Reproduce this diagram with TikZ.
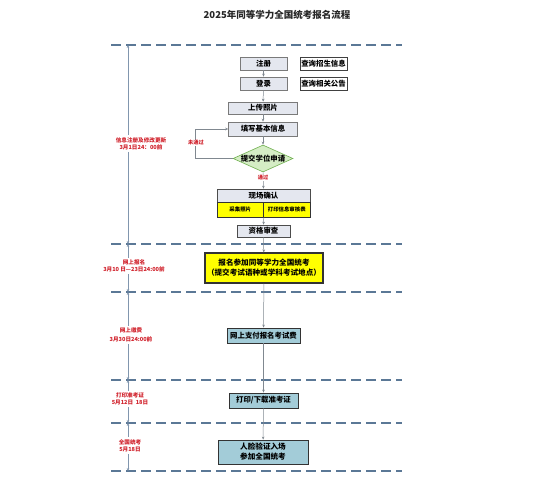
\documentclass[tikz,border=0pt]{standalone}
\usepackage{fontspec}
\setmainfont{Noto Sans CJK SC}
\usetikzlibrary{shapes.geometric,arrows.meta}
\definecolor{boxfill}{HTML}{E4E7EF}
\definecolor{boxline}{HTML}{7A7A7A}
\definecolor{dfill}{HTML}{D5EDC5}
\definecolor{dline}{HTML}{6FAF4F}
\definecolor{ylw}{HTML}{FFFF00}
\definecolor{lblue}{HTML}{A3CCD8}
\definecolor{dash}{HTML}{5B7896}
\definecolor{tline}{HTML}{8196AE}
\definecolor{conn}{HTML}{808890}
\definecolor{redlab}{HTML}{D0202A}
\begin{document}
\begin{tikzpicture}[x=1pt,y=-1pt,
  box/.style={draw=boxline, fill=boxfill, line width=0.6pt, inner sep=0pt,
    font=\fontsize{7.4}{8}\selectfont\bfseries, align=center},
  wbox/.style={box, fill=white, draw=black!75},
  ybox/.style={box, fill=ylw, draw=black!80},
  bbox/.style={box, fill=lblue, draw=black!80, line width=0.8pt},
  dec/.style={shape=diamond, draw=dline, fill=dfill, line width=0.6pt, inner sep=0pt},
  conline/.style={draw=conn, line width=0.5pt},
  con/.style={conline, -{Stealth[length=3pt,width=2.6pt]}},
  dashln/.style={draw=dash, line width=1.5pt, dash pattern=on 10pt off 5pt},
  tl/.style={draw=tline, line width=0.6pt, -{Stealth[length=3pt,width=2.6pt]}},
  redl/.style={text=redlab, font=\fontsize{5.6}{7}\selectfont\bfseries, align=center, inner sep=2pt},
  smallred/.style={text=redlab, font=\fontsize{5.2}{6}\selectfont\bfseries, fill=white, inner sep=0.5pt}
]
\useasboundingbox (0,0) rectangle (536,500);

% title
\node[font=\fontsize{9.5}{11}\selectfont\bfseries, text=black!85] (title) at (277,15) {2025年同等学力全国统考报名流程};

% dashed separators
\foreach \y in {45,244,292,380,423,471}
  \draw[dashln] (111,\y) -- (402,\y);

% timeline coordinates
\coordinate (t0) at (128,45);
\coordinate (t1) at (128,244);
\coordinate (t2) at (128,292);
\coordinate (t3) at (128,380);
\coordinate (t4) at (128,423);
\coordinate (t5) at (128,471);

% timeline labels
\node[redl] (lab1) at (141,143.5) {信息注册及修改更新\\3月1日24：00前};
\node[redl] (lab2) at (134,266) {网上报名\\3月10 日—23日24:00前};
\node[redl, font=\fontsize{5.6}{9}\selectfont\bfseries] (lab3) at (131,335) {网上缴费\\3月30日24:00前};
\node[redl] (lab4) at (130,399) {打印准考证\\5月12日 ~18日};
\node[redl] (lab5) at (130,445.5) {全国统考\\5月18日};

\draw[tl] (lab1.north -| t0) -- (t0);
\draw[tl] (lab1.south -| t1) -- (t1);
\draw[tl] (lab2.north -| t1) -- (t1);
\draw[tl] (lab2.south -| t2) -- (t2);
\draw[tl] (lab3.north -| t2) -- (t2);
\draw[tl] (lab3.south -| t3) -- (t3);
\draw[tl] (lab4.north -| t3) -- (t3);
\draw[tl] (lab4.south -| t4) -- (t4);
\draw[tl] (lab5.north -| t4) -- (t4);
\draw[tl] (lab5.south -| t5) -- (t5);

% flow nodes
\node[box, minimum width=47pt, minimum height=13pt] (reg) at (263.5,63.5) {注册};
\node[wbox, minimum width=47pt, minimum height=13pt] (q1) at (323.5,63.5) {查询招生信息};
\node[box, minimum width=47pt, minimum height=13pt] (login) at (263.5,83.5) {登录};
\node[wbox, minimum width=47pt, minimum height=13pt] (q2) at (323.5,83.5) {查询相关公告};
\node[box, minimum width=69pt, minimum height=12pt] (photo) at (263,108) {上传照片};
\node[box, minimum width=69pt, minimum height=14pt] (info) at (263,129) {填写基本信息};
\node[dec, minimum width=60pt, minimum height=27pt,
  label={[font=\fontsize{7.4}{8}\selectfont\bfseries, inner sep=0pt]center:提交学位申请}] (apply) at (263,158.5) {};
\node[box, draw=black!70, minimum width=93pt, minimum height=13pt] (confirm) at (263.5,195.5) {现场确认};
\node[ybox, minimum width=46.5pt, minimum height=15pt, font=\fontsize{5.4}{6}\selectfont\bfseries] (sub1) at (240.25,209.5) {采集照片};
\node[ybox, minimum width=46.5pt, minimum height=15pt, font=\fontsize{5.4}{6}\selectfont\bfseries] (sub2) at (286.75,209.5) {打印信息审核表};
\node[box, draw=black!70, minimum width=53pt, minimum height=12pt] (check) at (263.5,231) {资格审查};
\node[ybox, line width=1.1pt, minimum width=118pt, minimum height=30pt, font=\fontsize{7.6}{10}\selectfont\bfseries] (signup) at (264,268) {报名参加同等学力全国统考\\（提交考试语种或学科考试地点）};
\node[bbox, minimum width=73pt, minimum height=15pt] (pay) at (263.5,335.5) {网上支付报名考试费};
\node[bbox, minimum width=69pt, minimum height=15pt] (print) at (263.5,400.5) {打印/下载准考证};
\node[bbox, minimum width=90pt, minimum height=24pt, font=\fontsize{7.6}{10}\selectfont\bfseries] (exam) at (263,452) {人脸验证入场\\参加全国统考};

% connectors
\draw[con] (reg) -- (login);
\draw[con] (login) -- (photo);
\draw[con] (photo) -- (info);
\draw[con] (info) -- (apply);
\coordinate (loopx) at (195,0);
\draw[con] (apply.west) -- (apply.west -| loopx) |- (info.west);
\node[smallred] (fail) at (196,143) {未通过};
\draw[con] (apply.south) -- (confirm.north);
\node[smallred] (pass) at (263,178) {通过};
\draw[con] (sub1.south east) -- (check.north);
\draw[con] (check) -- (signup);
\draw[con] (signup) -- (pay);
\draw[con] (pay) -- (print);
\draw[con] (print) -- (exam);
\end{tikzpicture}
\end{document}
